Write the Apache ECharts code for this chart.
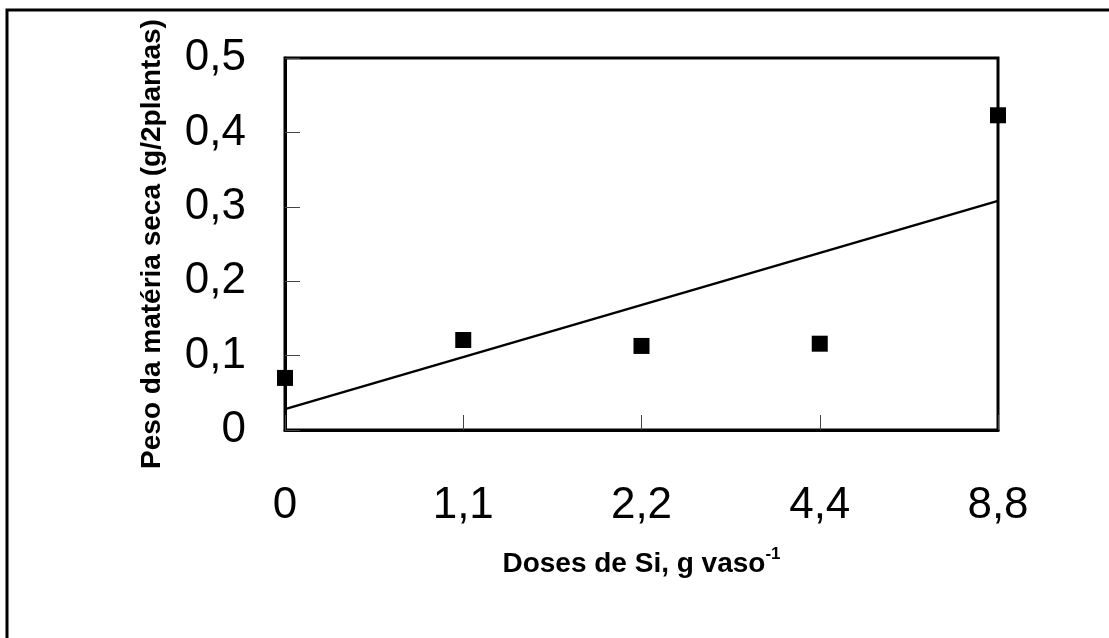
<!DOCTYPE html>
<html>
<head>
<meta charset="utf-8">
<script src="https://cdn.jsdelivr.net/npm/echarts@6/dist/echarts.min.js"></script>
<style>
  html, body { margin: 0; padding: 0; background: #fff; }
  #chart { width: 1109px; height: 638px; }
</style>
</head>
<body>
<div id="chart"></div>
<script>
  // doses de Si (categorias do eixo x)
  const DOSES = ['0', '1,1', '2,2', '4,4', '8,8']
  // peso da matéria seca, g/2 plantas
  const PESO = [0.070, 0.121, 0.113, 0.116, 0.423]
  // reta de tendência (extremos)
  const TREND_X = ['0', '8,8']
  const TREND_Y = [0.028, 0.308]
  const Y_TICKS = [0, 0.1, 0.2, 0.3, 0.4, 0.5]

  const fmt = v => (v === 0 ? '0' : v.toFixed(1).replace('.', ','))

  const chart = echarts.init(document.getElementById('chart'))

  const options = {
    backgroundColor: '#fff',
    animation: false,
    textStyle: { fontFamily: 'Liberation Sans, Arial, sans-serif', color: '#000' },
    graphic: [
      {
        // moldura externa: só topo e esquerda aparecem (imagem recortada)
        type: 'rect',
        shape: { x: 7, y: 10, width: 1300, height: 800 },
        style: { fill: null, stroke: '#000', lineWidth: 3 },
        silent: true
      }
    ],
    grid: {
      left: 285,
      top: 58,
      right: 111,
      bottom: 208,
      show: true,
      borderColor: '#000',
      borderWidth: 3,
      backgroundColor: 'transparent'
    },
    xAxis: {
      type: 'category',
      data: DOSES,
      boundaryGap: false,
      axisLine: { lineStyle: { color: '#000', width: 3 } },
      axisTick: {
        inside: true,
        length: 15,
        alignWithLabel: true,
        lineStyle: { color: '#444', width: 1 }
      },
      axisLabel: { fontSize: 44, color: '#000', margin: 54 },
      splitLine: { show: false },
      name: 'Doses de Si, g vaso{sup|-1}',
      nameLocation: 'middle',
      nameGap: 116,
      nameTextStyle: {
        fontSize: 28,
        fontWeight: 'bold',
        color: '#000',
        rich: {
          sup: { fontSize: 17, fontWeight: 'bold', color: '#000', padding: [0, 0, 20, 0] }
        }
      }
    },
    yAxis: {
      type: 'value',
      min: 0,
      max: 0.5,
      interval: 0.1,
      axisLine: { show: true, lineStyle: { color: '#000', width: 3 } },
      axisTick: {
        show: true,
        inside: true,
        length: 15,
        lineStyle: { color: '#444', width: 1 }
      },
      axisLabel: {
        fontSize: 44,
        color: '#000',
        margin: 39,
        formatter: v => {
          const t = Y_TICKS.find(x => Math.abs(x - v) < 1e-9)
          return fmt(t === undefined ? v : t)
        }
      },
      splitLine: { show: false },
      name: 'Peso da matéria seca (g/2plantas)',
      nameLocation: 'middle',
      nameGap: 119,
      nameTextStyle: { fontSize: 28, fontWeight: 'bold', color: '#000' }
    },
    series: [
      {
        type: 'line',
        data: TREND_X.map((x, i) => [x, TREND_Y[i]]),
        symbol: 'none',
        lineStyle: { color: '#000', width: 2.5 },
        z: 2
      },
      {
        type: 'scatter',
        data: PESO,
        symbol: 'rect',
        symbolSize: 16,
        itemStyle: { color: '#000', opacity: 1 },
        z: 3
      }
    ]
  }

  chart.setOption(options)
</script>
</body>
</html>
